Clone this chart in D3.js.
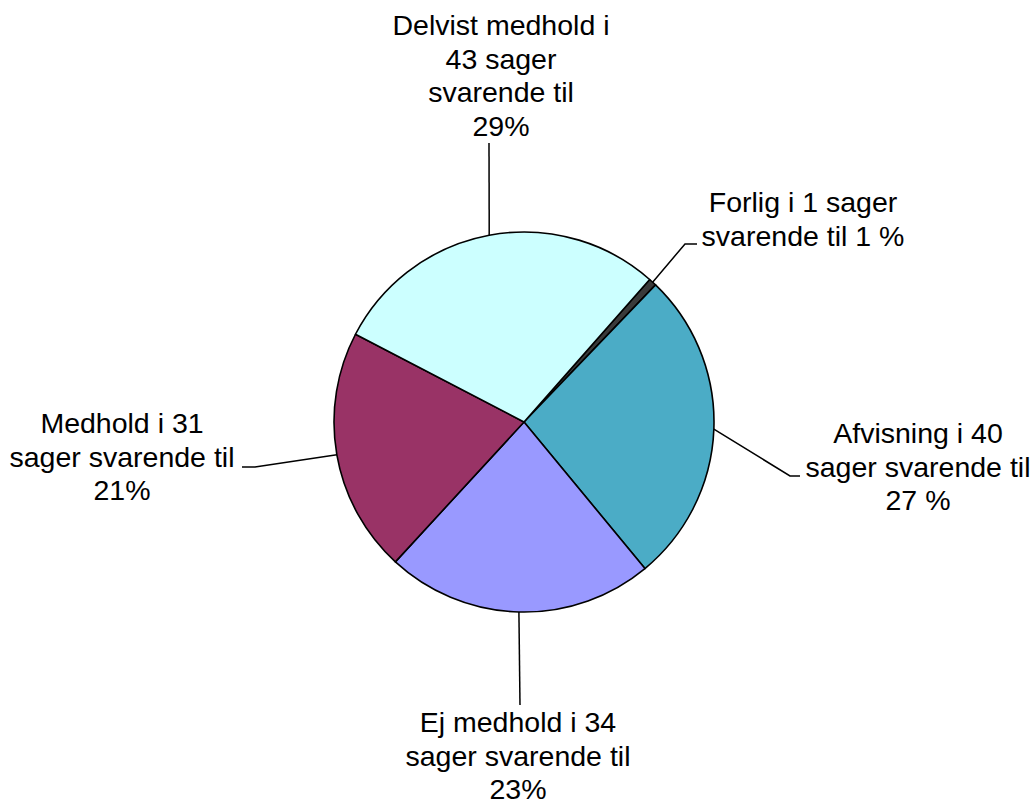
<!DOCTYPE html>
<html>
<head>
<meta charset="utf-8">
<script src="https://cdn.jsdelivr.net/npm/d3@7"></script>
<style>
  body { margin: 0; background: #fff; }
  svg { display: block; }
  text { font-family: "Liberation Sans", Arial, sans-serif; font-size: 28.5px; fill: #000; }
</style>
</head>
<body>
<svg width="1035" height="801"></svg>
<script>
var categories = ['Forlig', 'Afvisning', 'Ej medhold', 'Medhold', 'Delvist medhold'];
var values = [1, 40, 34, 31, 43];
var colors = ['#3a3a3a', '#4bacc6', '#9999ff', '#993366', '#ccffff'];
var labelLines = [
  ['Forlig i 1 sager', 'svarende til 1 %'],
  ['Afvisning i 40', 'sager svarende til', '27 %'],
  ['Ej medhold i 34', 'sager svarende til', '23%'],
  ['Medhold i 31', 'sager svarende til', '21%'],
  ['Delvist medhold i', '43 sager', 'svarende til', '29%']
];

var width = 1035, height = 801;
var cx = 524, cy = 422, radius = 190;
var lineH = 33.5;

// label layout: elbow point, line end, text centre x, first baseline
var layout = [
  {elbow: [685, 244], end: [697, 244], tx: 803, ty: 212},
  {elbow: [790, 476], end: [800, 476], tx: 918, ty: 443},
  {elbow: null, end: [520, 705], tx: 518, ty: 732},
  {elbow: [255, 467], end: [242, 467], tx: 122, ty: 433},
  {elbow: null, end: [489, 143], tx: 501, ty: 35}
];

var svg = d3.select('svg');
var g = svg.append('g').attr('transform', 'translate(' + cx + ',' + cy + ')');

var start = 41.4 * Math.PI / 180;
var pie = d3.pie().sort(null).value(function(d){ return d; })
  .startAngle(start).endAngle(start + 2 * Math.PI);
var arcs = pie(values);

var arc = d3.arc().innerRadius(0).outerRadius(radius);
var edge = d3.arc().innerRadius(radius).outerRadius(radius);

g.selectAll('path.slice').data(arcs).enter().append('path')
  .attr('class', 'slice')
  .attr('d', arc)
  .attr('fill', function(d, i){ return colors[i]; })
  .attr('stroke', '#000')
  .attr('stroke-width', 1.6)
  .attr('stroke-linejoin', 'round');

// leader lines
svg.selectAll('path.leader').data(arcs).enter().append('path')
  .attr('class', 'leader')
  .attr('fill', 'none')
  .attr('stroke', '#000')
  .attr('stroke-width', 1.5)
  .attr('d', function(d, i){
    var c = edge.centroid(d);
    var pts = [[c[0] + cx, c[1] + cy]];
    if (layout[i].elbow) pts.push(layout[i].elbow);
    pts.push(layout[i].end);
    return d3.line()(pts);
  });

// labels
var labels = svg.selectAll('text.lbl').data(labelLines).enter().append('text')
  .attr('class', 'lbl')
  .attr('text-anchor', 'middle');

labels.each(function(lines, i){
  var t = d3.select(this);
  lines.forEach(function(s, j){
    t.append('tspan')
      .attr('x', layout[i].tx)
      .attr('y', layout[i].ty + j * lineH)
      .text(s);
  });
});
</script>
</body>
</html>
